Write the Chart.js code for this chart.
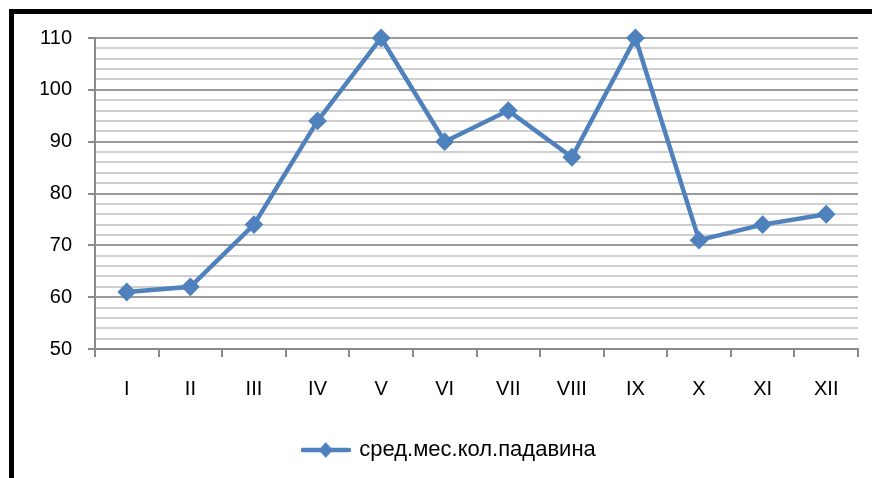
<!DOCTYPE html>
<html>
<head>
<meta charset="utf-8">
<script src="https://cdn.jsdelivr.net/npm/chart.js@4/dist/chart.umd.min.js"></script>
<style>
  html, body { margin: 0; padding: 0; background: #fff; overflow: hidden; }
  #frame {
    position: absolute; left: 9px; top: 9px; width: 900px; height: 500px;
    border-left: 5px solid #000; border-top: 5px solid #000;
  }
  #wrap { position: absolute; left: 0; top: 0; width: 872px; height: 478px; }
</style>
</head>
<body>
<div id="frame"></div>
<div id="wrap"><canvas id="lineChart" width="872" height="478"></canvas></div>
<script>
// Data
const months = ['I', 'II', 'III', 'IV', 'V', 'VI', 'VII', 'VIII', 'IX', 'X', 'XI', 'XII'];
const rainfall = [61, 62, 74, 94, 110, 90, 96, 87, 110, 71, 74, 76];
const seriesName = 'сред.мес.кол.падавина';
const yMin = 50, yMax = 110, yStep = 2, yLabelStep = 10;

const lineColor = '#4F81BD',
  majorGrid = '#9a9a9a',
  minorGrid = '#cfcfcf',
  axisColor = '#8a8a8a';
const font = { family: '"Liberation Sans", Arial, sans-serif', size: 20 };
const legendFont = { family: '"Liberation Sans", Arial, sans-serif', size: 22 };

// legend symbol: line with diamond in the middle
const legendIcon = document.createElement('canvas');
legendIcon.width = 50;
legendIcon.height = 18;
(function() {
  const c = legendIcon.getContext('2d');
  c.strokeStyle = lineColor;
  c.lineWidth = 4.5;
  c.lineCap = 'round';
  c.beginPath();
  c.moveTo(2, 9);
  c.lineTo(48, 9);
  c.stroke();
  c.fillStyle = lineColor;
  c.beginPath();
  c.moveTo(25, 1);
  c.lineTo(32, 9);
  c.lineTo(25, 17);
  c.lineTo(18, 9);
  c.closePath();
  c.fill();
})();

const ctx = document.getElementById('lineChart');
new Chart(ctx, {
  type: 'line',
  data: {
    labels: months,
    datasets: [{
      label: seriesName,
      data: rainfall,
      borderColor: lineColor,
      backgroundColor: lineColor,
      borderWidth: 4.5,
      tension: 0,
      clip: false,
      pointStyle: 'rectRot',
      pointRadius: 8,
      pointBorderWidth: 2,
      pointBackgroundColor: lineColor,
      pointBorderColor: lineColor
    }]
  },
  options: {
    responsive: false,
    animation: false,
    layout: { padding: { top: 38, left: 41, right: 14, bottom: 7 } },
    plugins: {
      tooltip: { enabled: false },
      legend: {
        position: 'bottom',
        labels: {
          color: '#000',
          font: legendFont,
          padding: 10,
          usePointStyle: true,
          pointStyleWidth: 45,
          generateLabels: function(chart) {
            return [{
              text: seriesName,
              pointStyle: legendIcon,
              fillStyle: lineColor,
              strokeStyle: lineColor,
              lineWidth: 0,
              datasetIndex: 0
            }];
          }
        }
      }
    },
    scales: {
      x: {
        offset: true,
        grid: {
          offset: true,
          drawOnChartArea: false,
          drawTicks: true,
          tickLength: 8,
          tickColor: axisColor,
          lineWidth: 2
        },
        border: { display: true, color: axisColor, width: 2 },
        ticks: { color: '#000', font: font, padding: 20, maxRotation: 0, autoSkip: false },
        afterFit: function(scale) { scale.height = 80; }
      },
      y: {
        min: yMin,
        max: yMax,
        grid: {
          color: function(c) { return c.tick && c.tick.value % yLabelStep === 0 ? majorGrid : minorGrid; },
          tickColor: function(c) { return c.tick && c.tick.value % yLabelStep === 0 ? axisColor : 'rgba(0,0,0,0)'; },
          lineWidth: 2,
          drawTicks: true,
          tickLength: 7
        },
        border: { display: true, color: axisColor, width: 2 },
        ticks: {
          stepSize: yStep,
          autoSkip: false,
          color: '#000',
          font: font,
          padding: 16,
          callback: function(v) { return v % yLabelStep === 0 ? v : ''; }
        },
        afterFit: function(scale) { scale.width = 54; }
      }
    }
  }
});
</script>
</body>
</html>
